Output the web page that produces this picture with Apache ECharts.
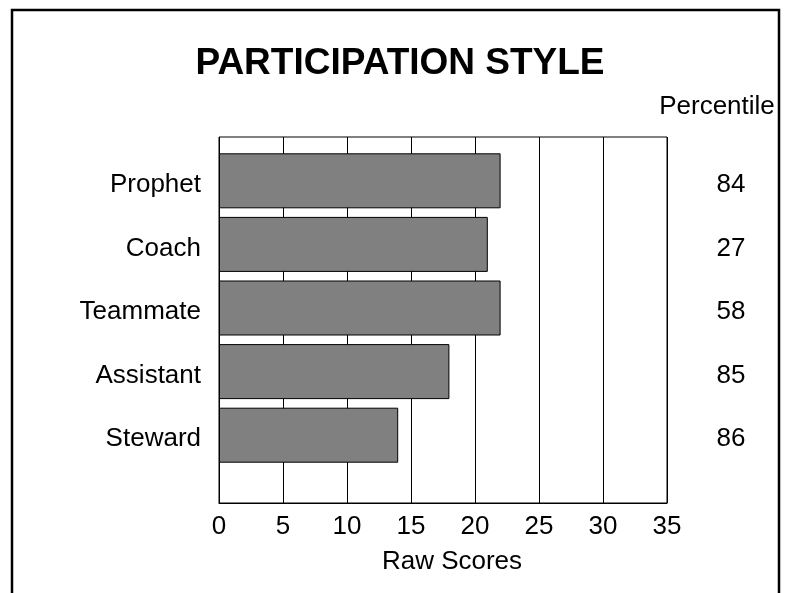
<!DOCTYPE html>
<html>
<head>
<meta charset="utf-8">
<script src="https://cdn.jsdelivr.net/npm/echarts@6/dist/echarts.min.js"></script>
<style>html,body{margin:0;padding:0;background:#fff}#c{width:786px;height:593px}</style>
</head>
<body>
<div id="c"></div>
<script>
var categories = ['Prophet', 'Coach', 'Teammate', 'Assistant', 'Steward'];
var rawScores = [22, 21, 22, 18, 14];
var percentiles = ['84', '27', '58', '85', '86'];
var xTicks = { min: 0, max: 35, interval: 5 };

var FONT = 'Liberation Sans, Arial, sans-serif';
var richLow = { t: { fontFamily: FONT, fontSize: 26, color: '#000', padding: [8, 0, 0, 0] } };
function low(v) { return '{t|' + v + '}'; }
var chart = echarts.init(document.getElementById('c'), null, { renderer: 'canvas' });
chart.setOption({
  animation: false,
  backgroundColor: '#fff',
  title: [
    { text: 'PARTICIPATION STYLE', left: 395, top: 59, textAlign: 'center', textVerticalAlign: 'middle',
      textStyle: { fontFamily: FONT, fontSize: 37, fontWeight: 'bold', color: '#000' } },
    { text: 'Percentile', left: 712, top: 102, textAlign: 'center', textVerticalAlign: 'middle',
      textStyle: { fontFamily: FONT, fontSize: 26, fontWeight: 'normal', color: '#000' } }
  ],
  graphic: [
    { type: 'rect', shape: { x: 12, y: 10, width: 767, height: 620 },
      style: { fill: 'none', stroke: '#000', lineWidth: 2.5 }, silent: true }
  ],
  grid: [
    { left: 219, width: 448, top: 137, height: 366, show: true, borderColor: '#000', borderWidth: 1, backgroundColor: 'transparent' },
    { left: 219, width: 448, top: 149, height: 318 }
  ],
  xAxis: [
    { type: 'value', gridIndex: 0, min: xTicks.min, max: xTicks.max, interval: xTicks.interval,
      axisLine: { show: true, lineStyle: { color: '#000', width: 1 } },
      axisTick: { show: false },
      splitLine: { show: true, lineStyle: { color: '#000', width: 1 } },
      axisLabel: { fontFamily: FONT, fontSize: 26, color: '#000', margin: 11 },
      name: 'Raw Scores', nameLocation: 'middle', nameGap: 46,
      nameTextStyle: { fontFamily: FONT, fontSize: 26, color: '#000', padding: [0, 0, 0, 18] } },
    { type: 'value', gridIndex: 1, min: xTicks.min, max: xTicks.max, show: false }
  ],
  yAxis: [
    { type: 'category', gridIndex: 0, data: categories, show: false },
    { type: 'category', gridIndex: 1, data: categories, inverse: true,
      axisLine: { show: false }, axisTick: { show: false }, splitLine: { show: false },
      axisLabel: { fontFamily: FONT, fontSize: 26, color: '#000', margin: 18, formatter: low, rich: richLow } },
    { type: 'category', gridIndex: 1, data: percentiles, inverse: true, position: 'right',
      axisLine: { show: false }, axisTick: { show: false }, splitLine: { show: false },
      axisLabel: { fontFamily: FONT, fontSize: 26, color: '#000', margin: 64, align: 'center', formatter: low, rich: richLow } }
  ],
  series: [
    { type: 'bar', xAxisIndex: 1, yAxisIndex: 1, data: rawScores, barWidth: 55,
      itemStyle: { color: '#808080', borderColor: '#000', borderWidth: 1 } }
  ]
});
</script>
</body>
</html>
